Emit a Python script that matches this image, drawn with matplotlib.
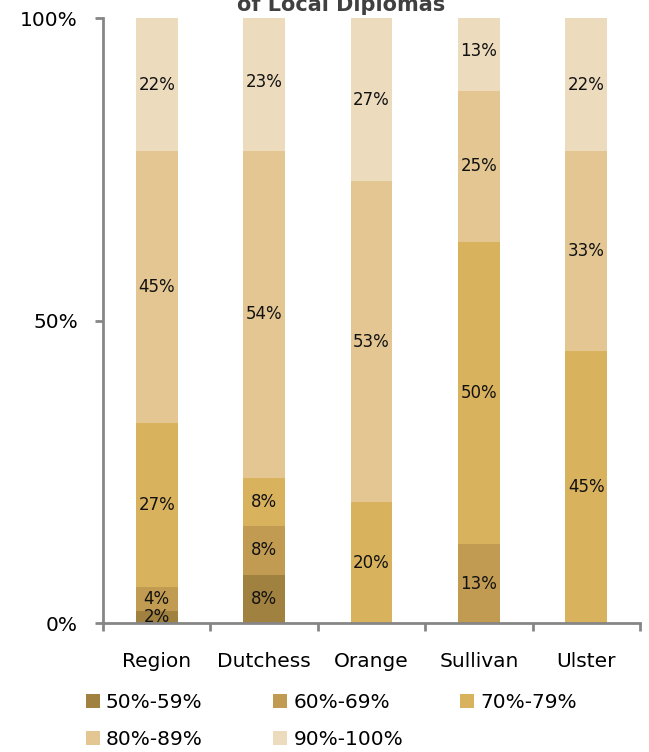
import numpy as np
import matplotlib.pyplot as plt

categories = ["Region", "Dutchess", "Orange", "Sullivan", "Ulster"]
bands = ["50%-59%", "60%-69%", "70%-79%", "80%-89%", "90%-100%"]
values = {
    "50%-59%": [2, 8, 0, 0, 0],
    "60%-69%": [4, 8, 0, 13, 0],
    "70%-79%": [27, 8, 20, 50, 45],
    "80%-89%": [45, 54, 53, 25, 33],
    "90%-100%": [22, 23, 27, 13, 22],
}
colors = ["#A1813F", "#C19B52", "#D9B25D", "#E3C692", "#EDDBBE"]

plt.rcParams['font.family'] = ['DejaVu Sans']

fig = plt.figure(figsize=(6.49, 7.52), dpi=100)
ax = fig.add_axes([0.1587, 0.1715, 0.8273, 0.8045])

x = np.arange(len(categories))
bottom = np.zeros(len(categories))
for band, col in zip(bands, colors):
    v = np.array(values[band], dtype=float)
    ax.bar(x, v, width=0.39, bottom=bottom, color=col, label=band,
           edgecolor="none")
    for xi, vi, bi in zip(x, v, bottom):
        if vi > 0:
            ax.text(xi, bi + vi / 2, f"{int(vi)}%", ha="center", va="center",
                    fontsize=12, color="#111111")
    bottom += v

ax.set_xlim(-0.5, len(categories) - 0.5)
ax.set_ylim(0, 100)
ax.set_yticks([0, 50, 100])
ax.set_yticklabels(["0%", "50%", "100%"], fontsize=14.5)
ax.set_xticks(np.arange(-0.5, len(categories), 1.0))
ax.set_xticklabels([])
ax.set_xticks(x, minor=True)
ax.set_xticklabels(categories, minor=True, fontsize=14.5)
ax.tick_params(axis="x", which="minor", length=0, pad=21)
ax.tick_params(axis="x", which="major", length=6, width=2, color="#868686", direction="out")
ax.tick_params(axis="y", length=6, width=2, color="#868686", direction="out", pad=12)

for s in ["top", "right"]:
    ax.spines[s].set_visible(False)
for s in ["left", "bottom"]:
    ax.spines[s].set_color("#868686")
    ax.spines[s].set_linewidth(2)
ax.spines["bottom"].set_bounds(-0.5, len(categories) - 0.5)

fig.text(0.525, 0.994, "of Local Diplomas", ha="center", va="center",
         fontsize=15, fontweight="bold", color="#404040")

# legend in two rows: 50,60,70 / 80,90
handles, labels = ax.get_legend_handles_labels()
leg_kw = dict(loc="upper left", ncol=3, frameon=False, fontsize=14.5,
              handlelength=0.7, handleheight=0.7, handletextpad=0.3,
              columnspacing=3.5, borderaxespad=0)
leg1 = ax.legend(handles[:3], labels[:3], bbox_to_anchor=(-0.047, -0.103), **leg_kw)
ax.add_artist(leg1)
ax.legend(handles[3:], labels[3:], bbox_to_anchor=(-0.047, -0.164), **leg_kw)

fig.savefig("out.png", dpi=100)
